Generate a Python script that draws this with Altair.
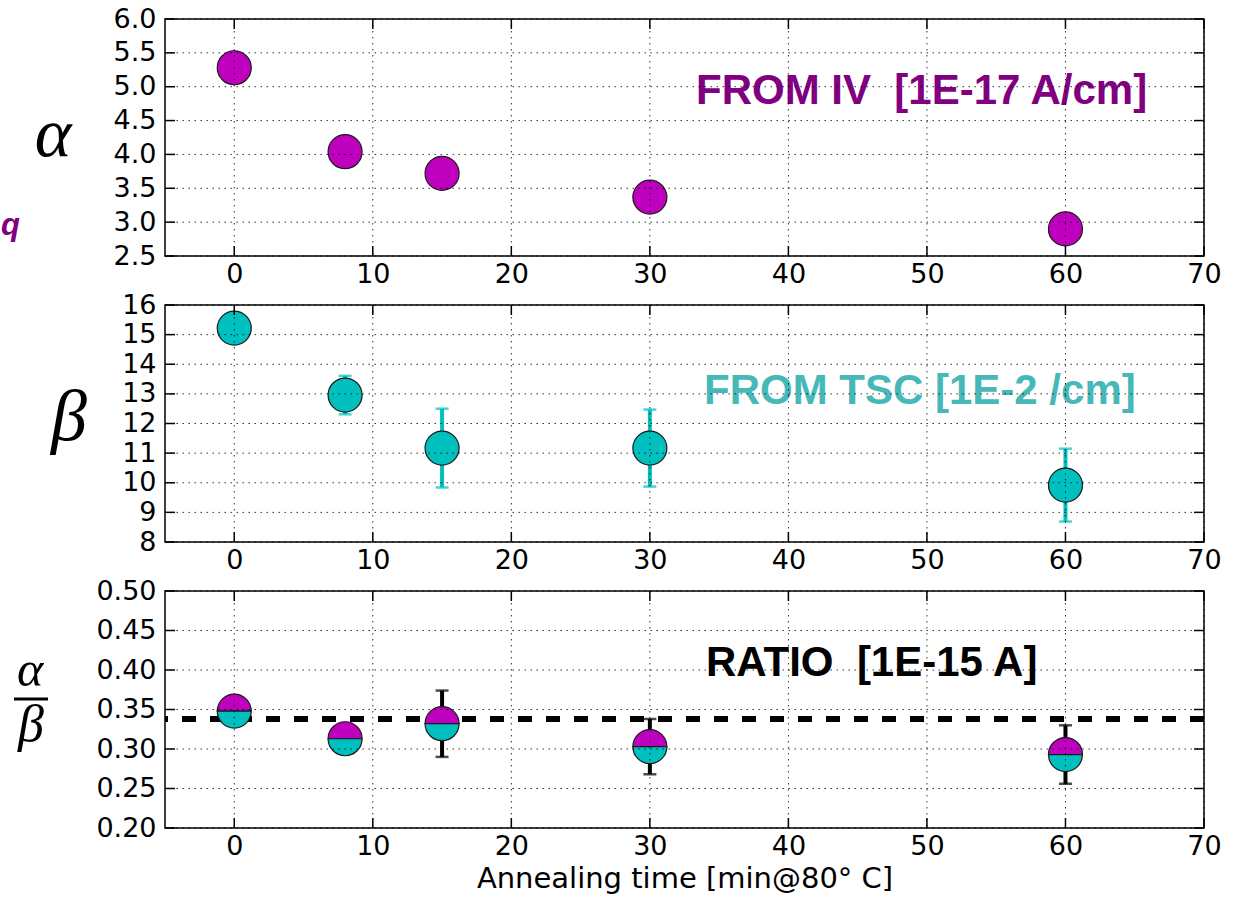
import altair as alt
import pandas as pd

# Annealing time points [min @ 80 C]
times = [0, 8, 15, 30, 60]

# alpha from IV  [1E-17 A/cm]
alpha = [5.28, 4.04, 3.72, 3.37, 2.90]

# beta from TSC  [1E-2 /cm] with uncertainties
beta = [15.22, 12.96, 11.17, 11.17, 9.92]
beta_err = [0.40, 0.65, 1.33, 1.30, 1.23]

# ratio alpha/beta  [1E-15 A] with uncertainties, and its mean
ratio = [0.348, 0.313, 0.332, 0.303, 0.293]
ratio_err = [0.012, 0.015, 0.042, 0.035, 0.037]
ratio_mean = [0.338]

x_ticks = [0, 10, 20, 30, 40, 50, 60, 70]
alpha_ticks = [2.5, 3.0, 3.5, 4.0, 4.5, 5.0, 5.5, 6.0]
beta_ticks = [8, 9, 10, 11, 12, 13, 14, 15, 16]
ratio_ticks = [0.20, 0.25, 0.30, 0.35, 0.40, 0.45, 0.50]

W, H = 1039, 237
MAGENTA = "#BF00BF"
CYAN = "#00BFBF"
EDGE = "#1a1a1a"
MARKER_SIZE = 1156
TOP_HALF = "M-1,0 A1,1 0 0,1 1,0 Z"
BOTTOM_HALF = "M-1,0 A1,1 0 0,0 1,0 Z"
NB = "\u00a0"

X_SCALE = alt.Scale(domain=[-5, 70], nice=False, zero=False)


def x_axis(title=None):
    kw = dict(values=x_ticks, grid=False, ticks=False, domain=False,
              labelFlush=False, labelOverlap=False, labelPadding=5)
    if title:
        kw.update(title=title, titlePadding=5)
    else:
        kw.update(title=None)
    return alt.Axis(**kw)


def y_axis(values, fmt):
    return alt.Axis(values=values, format=fmt, grid=False, ticks=False, domain=False,
                    labelFlush=False, labelOverlap=False, labelPadding=9, title=None)


class Panel:
    """Shared x/y encodings so that every layer of a panel carries the same axes."""

    def __init__(self, y_scale, y_values, y_fmt, x_title=None):
        self.ys = y_scale
        self.xa = x_axis(x_title)
        self.ya = y_axis(y_values, y_fmt)
        self.yv = y_values

    def x(self, field):
        return alt.X(f"{field}:Q", scale=X_SCALE, axis=self.xa)

    def y(self, field):
        return alt.Y(f"{field}:Q", scale=self.ys, axis=self.ya)

    def inner_ticks(self):
        """Short inward tick marks on all four sides of the frame."""
        xt = pd.DataFrame({"t": x_ticks})
        yt = pd.DataFrame({"v": self.yv})
        style = dict(color="black", strokeWidth=1.5)
        return [
            alt.Chart(xt).mark_rule(**style).encode(
                x=self.x("t"), y=alt.value(H), y2=alt.value(H - 10)),
            alt.Chart(xt).mark_rule(**style).encode(
                x=self.x("t"), y=alt.value(0), y2=alt.value(10)),
            alt.Chart(yt).mark_rule(**style).encode(
                y=self.y("v"), x=alt.value(0), x2=alt.value(10)),
            alt.Chart(yt).mark_rule(**style).encode(
                y=self.y("v"), x=alt.value(W), x2=alt.value(W - 10)),
        ]

    def grid(self):
        """Dotted grid, drawn above the markers and labels."""
        xt = pd.DataFrame({"t": x_ticks})
        yt = pd.DataFrame({"v": self.yv})
        style = dict(color="black", strokeWidth=1, strokeDash=[1.5, 4.5], opacity=0.8)
        return [
            alt.Chart(xt).mark_rule(**style).encode(x=self.x("t")),
            alt.Chart(yt).mark_rule(**style).encode(y=self.y("v")),
        ]

    def points(self, df, fill, shape="circle"):
        return alt.Chart(df).mark_point(
            shape=shape, filled=True, fill=fill, stroke=EDGE, strokeWidth=1.2,
            opacity=1, fillOpacity=1, size=MARKER_SIZE
        ).encode(x=self.x("t"), y=self.y("v"))

    def errorbars(self, df, color):
        bar = alt.Chart(df).mark_rule(color=color, strokeWidth=4).encode(
            x=self.x("t"), y=self.y("lo"), y2="hi:Q")
        lo = alt.Chart(df).mark_tick(color=color, orient="horizontal", size=13,
                                     thickness=2.5).encode(x=self.x("t"), y=self.y("lo"))
        hi = alt.Chart(df).mark_tick(color=color, orient="horizontal", size=13,
                                     thickness=2.5).encode(x=self.x("t"), y=self.y("hi"))
        return [bar, lo, hi]


def label(text, x, y, **style):
    return alt.Chart(pd.DataFrame({"s": [text]})).mark_text(**style).encode(
        x=alt.value(x), y=alt.value(y), text="s:N")


BIG = dict(font="Liberation Sans", fontWeight="bold", fontSize=42,
           align="left", baseline="alphabetic")
GREEK = dict(font="Liberation Serif", fontStyle="italic", align="center",
             baseline="alphabetic", color="black")

# ---- alpha panel ----
pa = Panel(alt.Scale(domain=[2.5, 6.0], nice=False, zero=False), alpha_ticks, ".1f")
df_a = pd.DataFrame({"t": times, "v": alpha})
panel_a = alt.layer(
    pa.points(df_a, MAGENTA),
    *pa.inner_ticks(),
    label(f"FROM IV{NB}{NB}[1E-17 A/cm]", 531, 85, color="#800080", **BIG),
    label("\u03b1", -112, 137, fontSize=70, **GREEK),
    label("q", -164, 207, font="Liberation Sans", fontWeight="bold", fontStyle="italic",
          fontSize=31, color="#800080", align="left", baseline="middle"),
    *pa.grid(),
).properties(width=W, height=H)

# ---- beta panel ----
pb = Panel(alt.Scale(domain=[8, 16], nice=False, zero=False), beta_ticks, "d")
df_b = pd.DataFrame({"t": times, "v": beta,
                     "lo": [v - e for v, e in zip(beta, beta_err)],
                     "hi": [v + e for v, e in zip(beta, beta_err)]})
panel_b = alt.layer(
    *pb.errorbars(df_b, CYAN),
    pb.points(df_b, CYAN),
    *pb.inner_ticks(),
    label("FROM TSC [1E-2 /cm]", 539, 99, color="#47B8B8", **BIG),
    label("\u03b2", -96, 135, fontSize=72, **GREEK),
    *pb.grid(),
).properties(width=W, height=H)

# ---- ratio panel ----
pr = Panel(alt.Scale(domain=[0.20, 0.50], nice=False, zero=False), ratio_ticks, ".2f",
           x_title="Annealing time [min@80\u00b0 C]")
df_r = pd.DataFrame({"t": times, "v": ratio,
                     "lo": [v - e for v, e in zip(ratio, ratio_err)],
                     "hi": [v + e for v, e in zip(ratio, ratio_err)]})
r_mean = alt.Chart(pd.DataFrame({"m": ratio_mean})).mark_rule(
    color="black", strokeWidth=6, strokeDash=[14, 14]
).encode(y=pr.y("m"))
frac_bar = alt.Chart(pd.DataFrame({"s": [1]})).mark_rule(color="black", strokeWidth=3).encode(
    x=alt.value(-151), x2=alt.value(-117), y=alt.value(108))
panel_r = alt.layer(
    r_mean,
    *pr.errorbars(df_r, "black"),
    pr.points(df_r, MAGENTA, TOP_HALF),
    pr.points(df_r, CYAN, BOTTOM_HALF),
    *pr.inner_ticks(),
    label(f"RATIO{NB}{NB}[1E-15 A]", 541, 85, color="black", **BIG),
    label("\u03b1", -135, 95, fontSize=50, **GREEK),
    label("\u03b2", -134, 150, fontSize=52, **GREEK),
    frac_bar,
    *pr.grid(),
).properties(width=W, height=H)

chart = alt.vconcat(panel_a, panel_b, panel_r, spacing=49, bounds="flush").configure(
    background="white", padding={"left": 0, "top": 4, "right": 5, "bottom": 5}
).configure_view(
    stroke="black", strokeWidth=1.5
).configure_axis(
    labelFont="DejaVu Sans", labelFontSize=27, labelColor="black",
    titleFont="DejaVu Sans", titleFontSize=29, titleFontWeight="normal", titleColor="black",
)

chart.save("out.html", embed_options={"renderer": "svg", "actions": False})
